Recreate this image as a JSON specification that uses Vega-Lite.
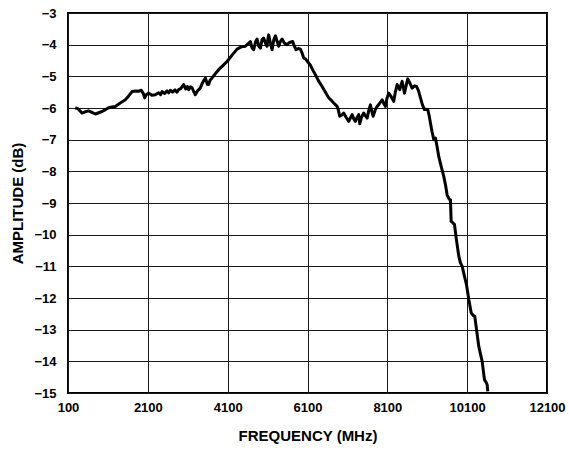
{
  "$schema": "https://vega.github.io/schema/vega-lite/v6.json",
  "width": 479,
  "height": 380,
  "autosize": "none",
  "padding": {"left": 68, "top": 13, "right": 22, "bottom": 58},
  "background": "white",
  "config": {
    "view": {"stroke": "black", "strokeWidth": 2},
    "axis": {
      "labelFont": "Liberation Sans",
      "labelFontWeight": "bold",
      "labelFontSize": 13,
      "labelColor": "black",
      "titleFont": "Liberation Sans",
      "titleFontWeight": "bold",
      "titleFontSize": 15,
      "titleColor": "black",
      "gridColor": "#1a1a1a",
      "gridWidth": 1,
      "gridOpacity": 1,
      "ticks": false,
      "tickSize": 0,
      "domain": false
    }
  },
  "data": {
    "values": [
      {"f": 280, "a": -6.00}, {"f": 350, "a": -6.02}, {"f": 450, "a": -6.16}, {"f": 530, "a": -6.12},
      {"f": 617, "a": -6.09}, {"f": 700, "a": -6.14}, {"f": 784, "a": -6.19}, {"f": 870, "a": -6.15},
      {"f": 952, "a": -6.11}, {"f": 1040, "a": -6.05}, {"f": 1118, "a": -5.99}, {"f": 1200, "a": -5.97},
      {"f": 1285, "a": -5.95}, {"f": 1400, "a": -5.85}, {"f": 1536, "a": -5.74}, {"f": 1620, "a": -5.62},
      {"f": 1704, "a": -5.48}, {"f": 1800, "a": -5.46}, {"f": 1870, "a": -5.47}, {"f": 1937, "a": -5.44},
      {"f": 1990, "a": -5.55}, {"f": 2020, "a": -5.68}, {"f": 2060, "a": -5.58}, {"f": 2120, "a": -5.53},
      {"f": 2200, "a": -5.60}, {"f": 2288, "a": -5.58}, {"f": 2370, "a": -5.52}, {"f": 2420, "a": -5.58},
      {"f": 2456, "a": -5.48}, {"f": 2520, "a": -5.54}, {"f": 2580, "a": -5.46}, {"f": 2620, "a": -5.52},
      {"f": 2664, "a": -5.44}, {"f": 2720, "a": -5.50}, {"f": 2780, "a": -5.43}, {"f": 2830, "a": -5.50},
      {"f": 2872, "a": -5.42}, {"f": 2930, "a": -5.38}, {"f": 2997, "a": -5.26}, {"f": 3050, "a": -5.40},
      {"f": 3090, "a": -5.32}, {"f": 3123, "a": -5.42}, {"f": 3170, "a": -5.33}, {"f": 3208, "a": -5.36},
      {"f": 3250, "a": -5.48}, {"f": 3290, "a": -5.58}, {"f": 3350, "a": -5.45}, {"f": 3416, "a": -5.37},
      {"f": 3470, "a": -5.20}, {"f": 3541, "a": -5.05}, {"f": 3590, "a": -5.25}, {"f": 3624, "a": -5.26},
      {"f": 3660, "a": -5.12}, {"f": 3709, "a": -5.05}, {"f": 3790, "a": -4.92}, {"f": 3875, "a": -4.79},
      {"f": 3980, "a": -4.66}, {"f": 4085, "a": -4.53}, {"f": 4210, "a": -4.33}, {"f": 4336, "a": -4.14},
      {"f": 4440, "a": -4.07}, {"f": 4544, "a": -4.05}, {"f": 4610, "a": -3.97}, {"f": 4669, "a": -3.90},
      {"f": 4710, "a": -4.10}, {"f": 4752, "a": -4.16}, {"f": 4800, "a": -3.90}, {"f": 4837, "a": -3.82},
      {"f": 4880, "a": -4.05}, {"f": 4920, "a": -4.11}, {"f": 4960, "a": -3.85}, {"f": 5002, "a": -3.79},
      {"f": 5045, "a": -3.95}, {"f": 5087, "a": -4.05}, {"f": 5110, "a": -3.80}, {"f": 5128, "a": -3.69},
      {"f": 5170, "a": -3.95}, {"f": 5213, "a": -4.16}, {"f": 5255, "a": -3.85}, {"f": 5296, "a": -3.72},
      {"f": 5340, "a": -3.90}, {"f": 5378, "a": -4.05}, {"f": 5420, "a": -3.90}, {"f": 5463, "a": -3.82},
      {"f": 5520, "a": -3.95}, {"f": 5588, "a": -4.00}, {"f": 5650, "a": -3.93}, {"f": 5729, "a": -3.90},
      {"f": 5770, "a": -4.05}, {"f": 5815, "a": -4.16}, {"f": 5870, "a": -4.12}, {"f": 5922, "a": -4.14},
      {"f": 5960, "a": -4.25}, {"f": 6005, "a": -4.42}, {"f": 6047, "a": -4.45}, {"f": 6130, "a": -4.58},
      {"f": 6173, "a": -4.65}, {"f": 6240, "a": -4.82}, {"f": 6298, "a": -4.95}, {"f": 6380, "a": -5.15},
      {"f": 6466, "a": -5.32}, {"f": 6550, "a": -5.50}, {"f": 6631, "a": -5.68}, {"f": 6700, "a": -5.76},
      {"f": 6757, "a": -5.84}, {"f": 6842, "a": -5.95}, {"f": 6870, "a": -6.05}, {"f": 6907, "a": -6.26},
      {"f": 6960, "a": -6.22}, {"f": 7007, "a": -6.16}, {"f": 7070, "a": -6.30}, {"f": 7133, "a": -6.42},
      {"f": 7180, "a": -6.30}, {"f": 7218, "a": -6.21}, {"f": 7260, "a": -6.35}, {"f": 7300, "a": -6.42},
      {"f": 7340, "a": -6.30}, {"f": 7383, "a": -6.21}, {"f": 7408, "a": -6.50}, {"f": 7450, "a": -6.30},
      {"f": 7509, "a": -6.16}, {"f": 7550, "a": -6.25}, {"f": 7594, "a": -6.32}, {"f": 7640, "a": -6.05},
      {"f": 7676, "a": -5.90}, {"f": 7710, "a": -6.10}, {"f": 7744, "a": -6.26}, {"f": 7800, "a": -6.05},
      {"f": 7844, "a": -5.95}, {"f": 7910, "a": -5.85}, {"f": 7970, "a": -5.74}, {"f": 8010, "a": -5.85},
      {"f": 8052, "a": -5.95}, {"f": 8090, "a": -5.70}, {"f": 8135, "a": -5.53}, {"f": 8200, "a": -5.65},
      {"f": 8261, "a": -5.79}, {"f": 8300, "a": -5.50}, {"f": 8346, "a": -5.26}, {"f": 8380, "a": -5.35},
      {"f": 8411, "a": -5.42}, {"f": 8440, "a": -5.28}, {"f": 8471, "a": -5.16}, {"f": 8500, "a": -5.35},
      {"f": 8529, "a": -5.53}, {"f": 8570, "a": -5.30}, {"f": 8612, "a": -5.08}, {"f": 8660, "a": -5.20},
      {"f": 8722, "a": -5.37}, {"f": 8780, "a": -5.30}, {"f": 8830, "a": -5.32}, {"f": 8880, "a": -5.45},
      {"f": 8930, "a": -5.68}, {"f": 8980, "a": -5.90}, {"f": 9030, "a": -6.05}, {"f": 9070, "a": -6.04},
      {"f": 9113, "a": -6.05}, {"f": 9150, "a": -6.25}, {"f": 9180, "a": -6.47}, {"f": 9220, "a": -6.75},
      {"f": 9264, "a": -7.00}, {"f": 9306, "a": -6.95}, {"f": 9350, "a": -7.25}, {"f": 9388, "a": -7.53},
      {"f": 9450, "a": -7.85}, {"f": 9514, "a": -8.16}, {"f": 9560, "a": -8.45}, {"f": 9599, "a": -8.75},
      {"f": 9650, "a": -8.88}, {"f": 9682, "a": -8.90}, {"f": 9690, "a": -9.25}, {"f": 9699, "a": -9.58},
      {"f": 9740, "a": -9.62}, {"f": 9782, "a": -9.68}, {"f": 9830, "a": -10.15}, {"f": 9890, "a": -10.68},
      {"f": 9930, "a": -10.88}, {"f": 9975, "a": -11.00}, {"f": 10030, "a": -11.30}, {"f": 10083, "a": -11.58},
      {"f": 10141, "a": -12.05}, {"f": 10201, "a": -12.47}, {"f": 10250, "a": -12.55}, {"f": 10291, "a": -12.58},
      {"f": 10340, "a": -13.05}, {"f": 10391, "a": -13.53}, {"f": 10430, "a": -13.75}, {"f": 10476, "a": -14.00},
      {"f": 10505, "a": -14.30}, {"f": 10534, "a": -14.58}, {"f": 10580, "a": -14.68}, {"f": 10601, "a": -14.74},
      {"f": 10616, "a": -14.95}
    ]
  },
  "mark": {"type": "line", "color": "black", "strokeWidth": 3, "strokeJoin": "round", "strokeCap": "butt", "clip": true},
  "encoding": {
    "x": {
      "field": "f",
      "type": "quantitative",
      "scale": {"domain": [100, 12100], "nice": false, "zero": false},
      "axis": {
        "title": "FREQUENCY (MHz)",
        "values": [100, 2100, 4100, 6100, 8100, 10100, 12100],
        "format": "d",
        "labelPadding": 8,
        "titlePadding": 14,
        "labelFlush": false
      }
    },
    "y": {
      "field": "a",
      "type": "quantitative",
      "scale": {"domain": [-15, -3], "nice": false, "zero": false},
      "axis": {
        "title": "AMPLITUDE (dB)",
        "values": [-15, -14, -13, -12, -11, -10, -9, -8, -7, -6, -5, -4, -3],
        "format": "d",
        "labelPadding": 12,
        "titlePadding": 8,
        "labelFlush": false
      }
    }
  }
}
